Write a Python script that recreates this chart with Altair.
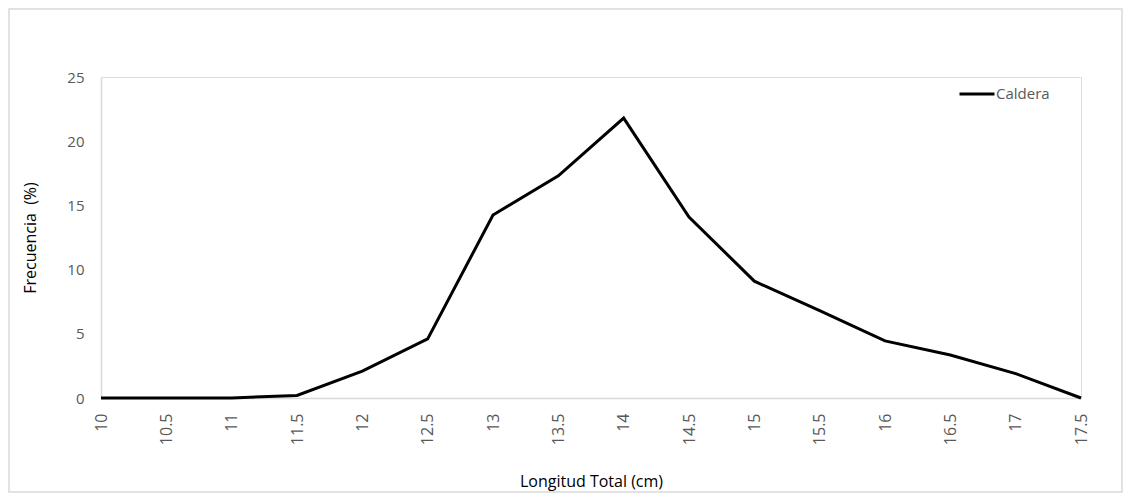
import altair as alt
import pandas as pd

longitud = [10, 10.5, 11, 11.5, 12, 12.5, 13, 13.5, 14, 14.5, 15, 15.5, 16, 16.5, 17, 17.5]
frecuencia = [0, 0, 0, 0.2, 2.1, 4.6, 14.25, 17.3, 21.8, 14.1, 9.1, 6.8, 4.45, 3.35, 1.9, 0]
serie = "Caldera"
y_ticks = [0, 5, 10, 15, 20, 25]

df = pd.DataFrame({"x": longitud, "y": frecuencia, "s": [serie] * len(longitud)})

W, H = 980, 321
PL, PT, PR, PB = 93, 69, 42, 95
FONT = "Open Sans"
GRAY = "#595959"

line = alt.Chart(df).mark_line(strokeWidth=3, strokeJoin="miter").encode(
    x=alt.X("x:Q",
            scale=alt.Scale(domain=[10, 17.5], nice=False, zero=False),
            axis=alt.Axis(values=longitud, format="~g", title="Longitud Total (cm)", labelAngle=-90,
                          labelFontSize=16, labelColor=GRAY, labelFont=FONT,
                          labelPadding=15, ticks=False, grid=False,
                          domainColor="#d9d9d9", domainWidth=1.5,
                          titleFontSize=16, titleFont=FONT, titleColor="#000000",
                          titleFontWeight="normal", titleY=83, titleBaseline="middle",
                          labelFlush=False, labelOverlap=False)),
    y=alt.Y("y:Q",
            scale=alt.Scale(domain=[0, 25], nice=False),
            axis=alt.Axis(values=y_ticks, title="Frecuencia \u00a0(%)",
                          labelFontSize=15, labelColor=GRAY, labelFont=FONT,
                          labelPadding=17, ticks=False, grid=False,
                          domainColor="#d9d9d9", domainWidth=1.5,
                          titleFontSize=16, titleFont=FONT, titleColor="#000000",
                          titleFontWeight="normal", titleX=-71, titleBaseline="middle")),
    color=alt.Color("s:N", scale=alt.Scale(range=["#000000"]),
                    legend=alt.Legend(title=None, orient="none", legendX=857, legendY=-2,
                                      symbolType="stroke", symbolSize=1225,
                                      symbolStrokeWidth=3, labelFontSize=15,
                                      labelFont=FONT, labelColor=GRAY, labelOffset=0,
                                      padding=0)),
)

border = alt.Chart(pd.DataFrame({"b": [0]})).mark_rect(
    fill=None, stroke="#d9d9d9", strokeWidth=1.5
).encode(
    x=alt.value(-PL + 1), x2=alt.value(W + PR - 1),
    y=alt.value(-PT + 1), y2=alt.value(H + PB - 1),
)

chart = alt.layer(border, line).properties(
    width=W, height=H,
    autosize=alt.AutoSizeParams(type="none"),
    padding={"left": PL, "top": PT, "right": PR, "bottom": PB},
).configure_view(stroke=None).configure(background="white")

chart.save("out.html", embed_options={"renderer": "svg", "actions": False})
